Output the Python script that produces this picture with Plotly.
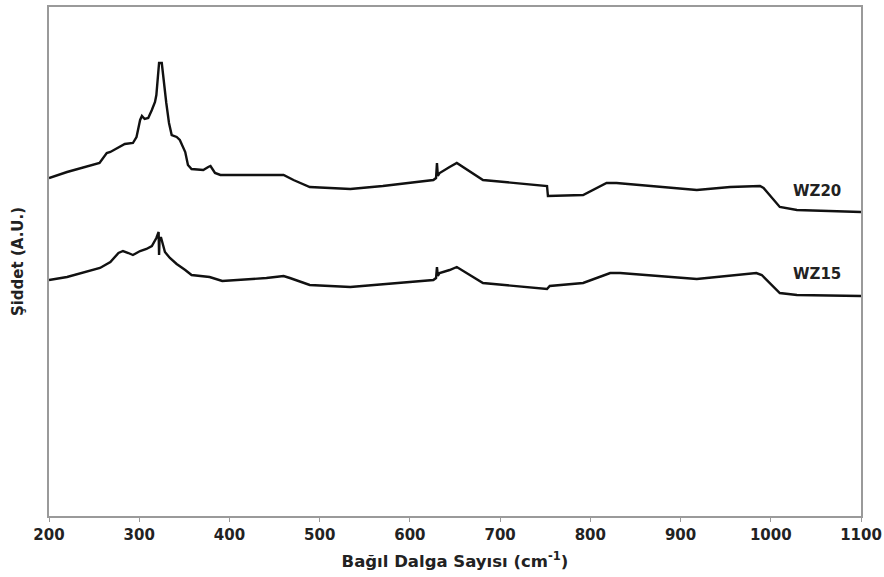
import plotly.graph_objects as go

# Raman-like spectra (x: wavenumber cm-1, y: arbitrary intensity)
wz20_x = [200, 220, 256, 264, 268, 279, 284, 293, 297, 301, 303, 306, 310, 314, 317.5, 319,
          322, 325, 327, 330, 333, 336, 341.5, 345, 351, 354, 358, 371, 376.5, 379, 384, 390,
          460, 471, 489, 534, 570, 626, 629, 630, 631, 633, 644, 652, 681, 752, 753, 792,
          818, 829, 918, 955, 988, 992, 1010, 1029, 1100]
wz20_y = [338, 344, 353, 363, 364, 369, 372, 373, 379, 396, 400, 397, 398, 406, 414, 421,
          453, 453, 436, 413, 393, 381, 379, 376, 364, 351, 347, 346, 349, 350, 343, 341,
          341, 336, 329, 327, 330, 336, 338, 353, 340, 343, 349, 353, 336, 330, 320, 321,
          333, 333, 326, 329, 330, 328, 309, 306, 304]

wz15_x = [200, 220, 256.5, 268, 277, 282, 288, 293, 301, 308, 314, 319, 321.5, 322, 322.5,
          324, 326, 328.5, 334, 341.5, 351, 358, 378, 392, 441, 460, 467, 489, 534, 589,
          626, 629, 630, 631, 633, 644, 652, 681, 752, 755, 792, 822, 833, 918, 984, 990,
          1010, 1029, 1100]
wz15_y = [236, 239, 248, 254, 263, 265, 263, 261, 265, 267, 270, 278, 284, 261, 276,
          279, 273, 264, 258, 252, 246, 241, 239, 235, 238, 240, 238, 231, 229, 233,
          236, 238, 249, 240, 243, 246, 249, 233, 227, 230, 233, 243, 243, 237, 243, 241,
          223, 221, 220]

series_names = ["WZ20", "WZ15"]
label_x = 1051
label_y = [325, 242]

x_ticks = [200, 300, 400, 500, 600, 700, 800, 900, 1000, 1100]

FONT = "DejaVu Sans, Liberation Sans, Arial, sans-serif"
TXT = "#222222"

fig = go.Figure()
for xs, ys, name in [(wz20_x, wz20_y, series_names[0]), (wz15_x, wz15_y, series_names[1])]:
    fig.add_trace(go.Scatter(x=xs, y=ys, mode="lines", name=name,
                             line=dict(color="#111111", width=2.4), showlegend=False))

for name, ly in zip(series_names, label_y):
    fig.add_annotation(x=label_x, y=ly, text=name, showarrow=False,
                       font=dict(family=FONT, size=15, color=TXT, weight="bold"))

axis_color = "#9a9a9a"
fig.update_layout(
    width=884, height=577,
    margin=dict(l=49, r=23, t=7, b=61, autoexpand=False),
    paper_bgcolor="white", plot_bgcolor="white",
    font=dict(family=FONT, color=TXT, size=15),
    xaxis=dict(range=[200, 1100], tickvals=x_ticks, ticktext=[str(t) for t in x_ticks],
               automargin=False,
               showgrid=False, zeroline=False, showline=True, linecolor=axis_color,
               linewidth=1.5, mirror=True, ticks="outside", ticklen=4, tickcolor=axis_color,
               tickfont=dict(family=FONT, size=15, weight="bold", color=TXT),
               title=dict(text="Bağıl Dalga Sayısı (cm<sup>-1</sup>)",
                          font=dict(family=FONT, size=16.5, weight="bold", color=TXT),
                          standoff=13)),
    yaxis=dict(range=[0, 509], showticklabels=False, showgrid=False, zeroline=False,
               automargin=False,
               showline=True, linecolor=axis_color, linewidth=1.5, mirror=True, ticks="",
               title=dict(text="Şiddet (A.U.)",
                          font=dict(family=FONT, size=15, weight="bold", color=TXT),
                          standoff=20)),
)

fig.write_html("out.html")
